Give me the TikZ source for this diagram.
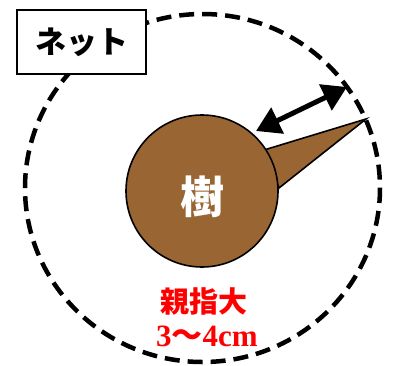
\documentclass[tikz,border=0pt]{standalone}
\usepackage{fontspec}
\setmainfont{Liberation Serif}
\newfontfamily\jp{Noto Sans CJK JP}
\usetikzlibrary{arrows.meta}
\definecolor{bark}{HTML}{996633}
\tikzset{
  netline/.style={line width=4.5pt, dash pattern=on 15pt off 8pt},
  labelbox/.style={draw=black, line width=1.3pt, fill=white, minimum width=129pt, minimum height=64pt, inner sep=0pt},
  trunk/.style={circle, draw=black, line width=1.6pt, fill=bark, minimum size=152pt, inner sep=0pt},
  twoway/.style={line width=5pt, {Triangle[length=24pt,width=28pt]}-{Triangle[length=24pt,width=28pt]}},
  redtxt/.style={text=red, inner sep=0pt}
}
\begin{document}
\begin{tikzpicture}[x=1pt,y=-1pt]
\useasboundingbox (0,0) rectangle (394,365);
% net
\draw[netline] (202.5,188) ellipse [x radius=177.5, y radius=174];
% branch
\coordinate (b1) at (264,150);
\coordinate (btip) at (366,119);
\coordinate (b2) at (279,188);
\draw[fill=bark, line width=1.6pt, line join=miter] (b1) -- (btip) -- (b2) -- cycle;
% trunk
\node[trunk] (tree) at (202,191) {};
\node[text=white, inner sep=0pt] (treelabel) at (202,197) {\jp\bfseries\fontsize{44pt}{44pt}\selectfont 樹};
% label box
\node[labelbox] (net) at (81.5,42) {\jp\bfseries\fontsize{31pt}{31pt}\selectfont ネット};
% arrow
\coordinate (a1) at (256,131);
\coordinate (a2) at (347,87);
\draw[twoway] (a1) -- (a2);
% red texts
\node[redtxt] (thumb) at (204,301) {\jp\bfseries\fontsize{29pt}{29pt}\selectfont 親指大};
\node[redtxt] (size) at (207,336) {\bfseries\fontsize{31pt}{31pt}\selectfont 3{\jp 〜}4cm};
\end{tikzpicture}
\end{document}
